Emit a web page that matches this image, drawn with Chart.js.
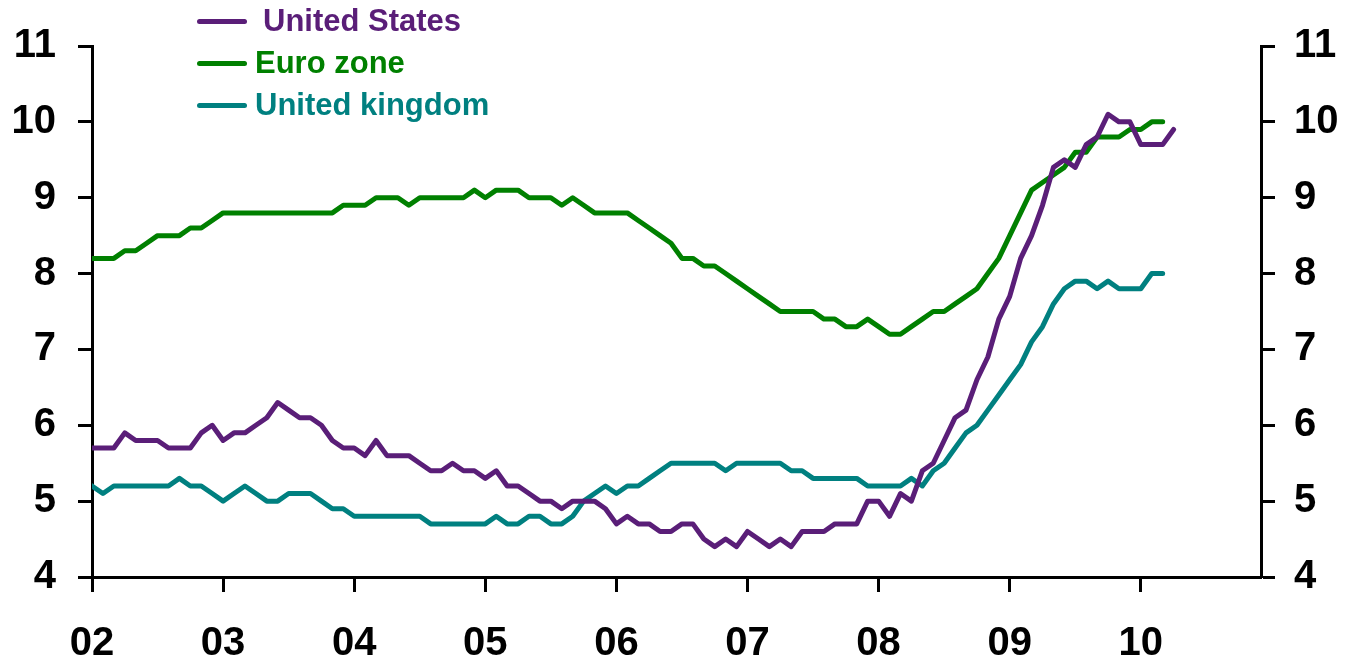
<!DOCTYPE html>
<html>
<head>
    <title>Unemployment rates</title>
    <script src="https://cdn.jsdelivr.net/npm/chart.js"></script>
    <style>
        body {
            margin: 0;
            background: white;
        }
        #wrap {
            position: relative;
            width: 1346px;
            height: 663px;
        }
        #legend {
            position: absolute;
            left: 0;
            top: 0;
            font-family: "Liberation Sans", Arial, sans-serif;
            font-weight: bold;
            font-size: 31px;
        }
        .item {
            position: absolute;
            white-space: nowrap;
        }
        .swatch {
            position: absolute;
            width: 50px;
            height: 5px;
            border-radius: 3px;
        }
    </style>
</head>
<body>
    <div id="wrap">
        <canvas id="rates" width="1346" height="663"></canvas>
        <div id="legend"></div>
    </div>

    <script>
        // monthly, Jan 2002 .. Apr 2010, per cent
        const yearLabels = ['02', '03', '04', '05', '06', '07', '08', '09', '10'];
        const seriesNames = ['United States', 'Euro zone', 'United kingdom'];
        const seriesColors = ['#5A1E78', '#008000', '#008080'];

        const usData = [
            5.7, 5.7, 5.7, 5.9, 5.8, 5.8, 5.8, 5.7, 5.7, 5.7, 5.9, 6.0,
            5.8, 5.9, 5.9, 6.0, 6.1, 6.3, 6.2, 6.1, 6.1, 6.0, 5.8, 5.7,
            5.7, 5.6, 5.8, 5.6, 5.6, 5.6, 5.5, 5.4, 5.4, 5.5, 5.4, 5.4,
            5.3, 5.4, 5.2, 5.2, 5.1, 5.0, 5.0, 4.9, 5.0, 5.0, 5.0, 4.9,
            4.7, 4.8, 4.7, 4.7, 4.6, 4.6, 4.7, 4.7, 4.5, 4.4, 4.5, 4.4,
            4.6, 4.5, 4.4, 4.5, 4.4, 4.6, 4.6, 4.6, 4.7, 4.7, 4.7, 5.0,
            5.0, 4.8, 5.1, 5.0, 5.4, 5.5, 5.8, 6.1, 6.2, 6.6, 6.9, 7.4,
            7.7, 8.2, 8.5, 8.9, 9.4, 9.5, 9.4, 9.7, 9.8, 10.1, 10.0, 10.0,
            9.7, 9.7, 9.7, 9.9
        ];
        const euroData = [
            8.2, 8.2, 8.2, 8.3, 8.3, 8.4, 8.5, 8.5, 8.5, 8.6, 8.6, 8.7,
            8.8, 8.8, 8.8, 8.8, 8.8, 8.8, 8.8, 8.8, 8.8, 8.8, 8.8, 8.9,
            8.9, 8.9, 9.0, 9.0, 9.0, 8.9, 9.0, 9.0, 9.0, 9.0, 9.0, 9.1,
            9.0, 9.1, 9.1, 9.1, 9.0, 9.0, 9.0, 8.9, 9.0, 8.9, 8.8, 8.8,
            8.8, 8.8, 8.7, 8.6, 8.5, 8.4, 8.2, 8.2, 8.1, 8.1, 8.0, 7.9,
            7.8, 7.7, 7.6, 7.5, 7.5, 7.5, 7.5, 7.4, 7.4, 7.3, 7.3, 7.4,
            7.3, 7.2, 7.2, 7.3, 7.4, 7.5, 7.5, 7.6, 7.7, 7.8, 8.0, 8.2,
            8.5, 8.8, 9.1, 9.2, 9.3, 9.4, 9.6, 9.6, 9.8, 9.8, 9.8, 9.9,
            9.9, 10.0, 10.0
        ];
        const ukData = [
            5.2, 5.1, 5.2, 5.2, 5.2, 5.2, 5.2, 5.2, 5.3, 5.2, 5.2, 5.1,
            5.0, 5.1, 5.2, 5.1, 5.0, 5.0, 5.1, 5.1, 5.1, 5.0, 4.9, 4.9,
            4.8, 4.8, 4.8, 4.8, 4.8, 4.8, 4.8, 4.7, 4.7, 4.7, 4.7, 4.7,
            4.7, 4.8, 4.7, 4.7, 4.8, 4.8, 4.7, 4.7, 4.8, 5.0, 5.1, 5.2,
            5.1, 5.2, 5.2, 5.3, 5.4, 5.5, 5.5, 5.5, 5.5, 5.5, 5.4, 5.5,
            5.5, 5.5, 5.5, 5.5, 5.4, 5.4, 5.3, 5.3, 5.3, 5.3, 5.3, 5.2,
            5.2, 5.2, 5.2, 5.3, 5.2, 5.4, 5.5, 5.7, 5.9, 6.0, 6.2, 6.4,
            6.6, 6.8, 7.1, 7.3, 7.6, 7.8, 7.9, 7.9, 7.8, 7.9, 7.8, 7.8,
            7.8, 8.0, 8.0
        ];
        const allSeries = [usData, euroData, ukData];

        // legend, drawn as html so the text stays text
        const legendPos = [
            { line: 197, text: 263, y: 21 },
            { line: 197, text: 255, y: 63 },
            { line: 197, text: 255, y: 105 }
        ];
        const legend = document.getElementById('legend');
        seriesNames.forEach((name, i) => {
            const sw = document.createElement('div');
            sw.className = 'swatch';
            sw.style.left = legendPos[i].line + 'px';
            sw.style.top = (legendPos[i].y - 2) + 'px';
            sw.style.background = seriesColors[i];
            legend.appendChild(sw);

            const txt = document.createElement('div');
            txt.className = 'item';
            txt.textContent = name;
            txt.style.left = legendPos[i].text + 'px';
            txt.style.top = (legendPos[i].y - 18) + 'px';
            txt.style.color = seriesColors[i];
            legend.appendChild(txt);
        });

        const tickFont = { family: '"Liberation Sans", Arial, sans-serif', size: 40, weight: 'bold' };

        function yAxis(position) {
            return {
                type: 'linear',
                position: position,
                min: 4,
                max: 11,
                ticks: { stepSize: 1, color: 'black', font: tickFont, padding: position === 'left' ? 22 : 19 },
                grid: { drawOnChartArea: false, tickLength: 14, tickWidth: 3, tickColor: 'black' },
                border: { display: true, color: 'black', width: 3 },
                afterFit: (scale) => { scale.width = position === 'left' ? 92 : 85; }
            };
        }

        new Chart(document.getElementById('rates').getContext('2d'), {
            type: 'line',
            data: {
                datasets: allSeries.map((vals, i) => ({
                    label: seriesNames[i],
                    data: vals.map((v, m) => ({ x: m, y: v })),
                    borderColor: seriesColors[i],
                    borderWidth: 5,
                    pointRadius: 0,
                    tension: 0,
                    borderJoinStyle: 'round',
                    borderCapStyle: 'round',
                    yAxisID: 'y'
                }))
            },
            options: {
                responsive: false,
                animation: false,
                layout: { padding: { top: 44, right: 0, bottom: 0, left: 0 } },
                scales: {
                    x: {
                        type: 'linear',
                        min: 0,
                        max: 107,
                        ticks: {
                            stepSize: 12,
                            includeBounds: false,
                            autoSkip: false,
                            maxRotation: 0,
                            color: 'black',
                            font: tickFont,
                            padding: 28,
                            callback: (v) => v % 12 === 0 ? yearLabels[v / 12] : ''
                        },
                        grid: { drawOnChartArea: false, tickLength: 15, tickWidth: 3, tickColor: 'black' },
                        border: { display: true, color: 'black', width: 3 },
                        afterFit: (scale) => { scale.height = 86; }
                    },
                    y: yAxis('left'),
                    y2: yAxis('right')
                },
                plugins: {
                    legend: { display: false },
                    tooltip: { enabled: false }
                }
            }
        });
    </script>
</body>
</html>
